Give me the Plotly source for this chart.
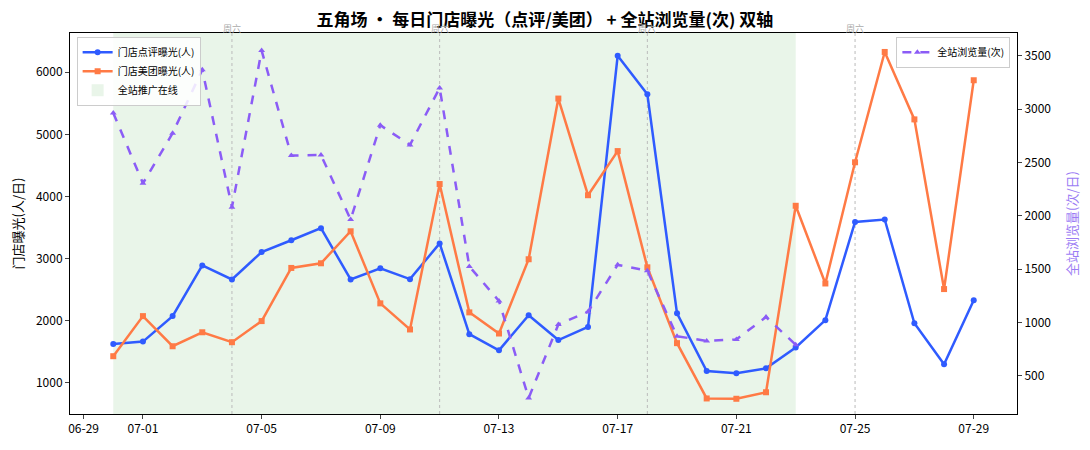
import plotly.graph_objects as go
import pandas as pd

dates = pd.date_range("2020-06-30", "2020-07-29", freq="D")
dianping = [1625, 1665, 2075, 2890, 2665, 3105, 3295, 3490, 2665, 2845, 2670, 3245,
            1785, 1525, 2090, 1690, 1900, 6265, 5645, 2120, 1190, 1155, 1235, 1570,
            2010, 3590, 3630, 1960, 1300, 2330]
meituan = [1430, 2075, 1590, 1815, 1655, 1995, 2850, 2925, 3440, 2280, 1860, 4200,
           2135, 1795, 2990, 5575, 4020, 4730, 2860, 1640, 750, 745, 850, 3850,
           2600, 4550, 6325, 5240, 2510, 5870]
site_pv = [2965, 2305, 2775, 3370, 2080, 3550, 2565, 2570, 1965, 2850, 2665, 3200,
           1525, 1200, 290, 980, 1100, 1540, 1485, 870, 825, 840, 1050, 790]
pv_dates = dates[:len(site_pv)]
promo_start, promo_end = "2020-06-30", "2020-07-23"
saturdays = ["2020-07-04", "2020-07-11", "2020-07-18", "2020-07-25"]
tick_dates = ["2020-06-29", "2020-07-01", "2020-07-05", "2020-07-09", "2020-07-13",
              "2020-07-17", "2020-07-21", "2020-07-25", "2020-07-29"]
tick_text = [pd.Timestamp(d).strftime("%m-%d") for d in tick_dates]

BLUE = "#2f5bff"
ORANGE = "#ff7a45"
PURPLE = "#8b5cf6"
FONT = "Noto Sans CJK SC"

fig = go.Figure()
fig.add_trace(go.Scatter(x=dates, y=dianping, name="门店点评曝光(人)", mode="lines+markers",
                         line=dict(color=BLUE, width=2.5), marker=dict(symbol="circle", size=6, color=BLUE),
                         legend="legend"))
fig.add_trace(go.Scatter(x=dates, y=meituan, name="门店美团曝光(人)", mode="lines+markers",
                         line=dict(color=ORANGE, width=2.5), marker=dict(symbol="square", size=6, color=ORANGE),
                         legend="legend"))
fig.add_trace(go.Scatter(x=pv_dates, y=site_pv, name="全站浏览量(次)", mode="lines+markers", yaxis="y2",
                         line=dict(color=PURPLE, width=2.5, dash="dash"),
                         marker=dict(symbol="triangle-up", size=6, color=PURPLE),
                         legend="legend2"))

fig.add_shape(type="rect", xref="x", yref="paper", x0=promo_start, x1=promo_end, y0=0, y1=1,
              fillcolor="#e9f5e9", line=dict(width=0), layer="below",
              showlegend=True, name="全站推广在线", legend="legend", legendrank=1100)

for d in saturdays:
    fig.add_shape(type="line", xref="x", yref="paper", x0=d, x1=d, y0=0, y1=1,
                  line=dict(color="#bbbbbb", width=1, dash="dot"), layer="below")
    fig.add_annotation(x=d, y=1, xref="x", yref="paper", yanchor="bottom", text="周六",
                       showarrow=False, font=dict(size=9, color="#aaaaaa", family=FONT), yshift=-4)

fig.update_layout(
    width=1090, height=450,
    margin=dict(l=62, r=81, t=25, b=44, autoexpand=False),
    paper_bgcolor="white", plot_bgcolor="white",
    font=dict(family=FONT, size=12, color="black"),
    title=dict(text="<b>五角场 • 每日门店曝光（点评/美团） + 全站浏览量(次) 双轴</b>",
               x=0.4925, xanchor="center", y=0.974, yanchor="middle", font=dict(size=17, family=FONT)),
    xaxis=dict(type="date", range=["2020-06-28 13:00", "2020-07-30 11:00"], automargin=False,
               tickvals=tick_dates, ticktext=tick_text, ticks="outside", ticklen=4,
               showgrid=False, showline=True, linecolor="black", linewidth=1, mirror=True,
               zeroline=False, tickfont=dict(size=12)),
    yaxis=dict(range=[500, 6630], tickvals=[1000, 2000, 3000, 4000, 5000, 6000], automargin=False,
               ticks="outside", ticklen=4, showgrid=False, showline=True, linecolor="black",
               linewidth=1, mirror=True, zeroline=False,
               title=dict(text="门店曝光(人/日)", font=dict(size=13), standoff=13)),
    yaxis2=dict(overlaying="y", side="right", range=[140, 3715], automargin=False,
                tickvals=[500, 1000, 1500, 2000, 2500, 3000, 3500],
                ticks="outside", ticklen=4, showgrid=False, showline=False, zeroline=False,
                title=dict(text="全站浏览量(次/日)", font=dict(size=13, color="#9b7cf4"), standoff=17)),
    legend=dict(x=0.007, y=0.99, xanchor="left", yanchor="top", bgcolor="rgba(255,255,255,0.85)",
                bordercolor="#cccccc", borderwidth=1, font=dict(size=10), tracegroupgap=0,
                itemwidth=30),
    legend2=dict(x=0.993, y=0.99, xanchor="right", yanchor="top", bgcolor="rgba(255,255,255,0.85)",
                 bordercolor="#cccccc", borderwidth=1, font=dict(size=10), itemwidth=30),
)

fig.write_html("out.html")
